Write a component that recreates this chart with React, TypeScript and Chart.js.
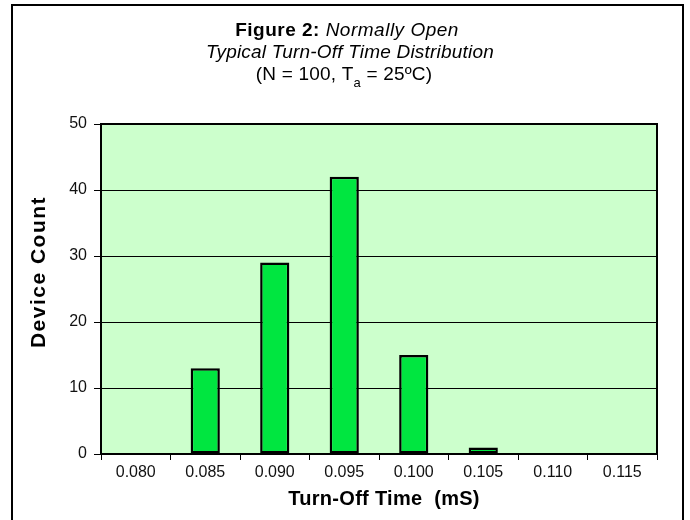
import React, { useEffect, useRef } from 'react';
import { Chart, registerables } from 'chart.js';

Chart.register(...registerables);

// ---- data ----
const categories = ['0.080', '0.085', '0.090', '0.095', '0.100', '0.105', '0.110', '0.115'];
const deviceCounts = [0, 13, 29, 42, 15, 1, 0, 0];
const yTickValues = [0, 10, 20, 30, 40, 50];

const titleBold = 'Figure 2:';
const titleItalic = 'Normally Open';
const titleLine2 = 'Typical Turn-Off Time Distribution';
const titleLine3Pre = '(N = 100, T';
const titleLine3Sub = 'a';
const titleLine3Post = ' = 25ºC)';
const xAxisTitle = 'Turn-Off Time  (mS)';
const yAxisTitle = 'Device Count';

const FONT = '"Liberation Sans", Arial, Helvetica, sans-serif';

const decorPlugin = {
  id: 'decor',
  beforeDraw(chart: any) {
    const { ctx, chartArea: a, width, height } = chart;
    ctx.save();
    ctx.fillStyle = '#ffffff';
    ctx.fillRect(0, 0, width, height);
    ctx.fillStyle = '#CCFFCC';
    ctx.fillRect(a.left, a.top, a.right - a.left, a.bottom - a.top);
    ctx.restore();
  },
  afterDatasetsDraw(chart: any) {
    const { ctx, chartArea: a } = chart;
    ctx.save();
    ctx.strokeStyle = '#000000';
    ctx.lineWidth = 2;
    ctx.strokeRect(a.left, a.top, a.right - a.left, a.bottom - a.top);
    ctx.restore();
  },
  afterDraw(chart: any) {
    const { ctx, chartArea: a } = chart;
    ctx.save();
    // outer frame
    ctx.strokeStyle = '#000000';
    ctx.lineWidth = 2;
    ctx.strokeRect(12, 5, 671, 560);

    ctx.fillStyle = '#000000';
    ctx.textBaseline = 'alphabetic';
    ctx.textAlign = 'left';

    // title line 1
    (ctx as any).letterSpacing = '0.5px';
    ctx.font = `bold 19px ${FONT}`;
    const bw = ctx.measureText(titleBold + ' ').width;
    ctx.font = `italic 19px ${FONT}`;
    const iw = ctx.measureText(titleItalic).width;
    let x = 347 - (bw + iw) / 2;
    ctx.font = `bold 19px ${FONT}`;
    ctx.fillText(titleBold + ' ', x, 36);
    ctx.font = `italic 19px ${FONT}`;
    ctx.fillText(titleItalic, x + bw, 36);

    // title line 2
    (ctx as any).letterSpacing = '0.2px';
    ctx.font = `italic 19px ${FONT}`;
    const w2 = ctx.measureText(titleLine2).width;
    ctx.fillText(titleLine2, 350 - w2 / 2, 57.5);

    // title line 3
    ctx.font = `19px ${FONT}`;
    const wp = ctx.measureText(titleLine3Pre).width;
    const wq = ctx.measureText(titleLine3Post).width;
    ctx.font = `13px ${FONT}`;
    const ws = ctx.measureText(titleLine3Sub).width;
    x = 344 - (wp + ws + wq) / 2;
    ctx.font = `19px ${FONT}`;
    ctx.fillText(titleLine3Pre, x, 80);
    ctx.font = `13px ${FONT}`;
    ctx.fillText(titleLine3Sub, x + wp, 87);
    ctx.font = `19px ${FONT}`;
    ctx.fillText(titleLine3Post, x + wp + ws, 80);

    // x axis title
    (ctx as any).letterSpacing = '0.3px';
    ctx.font = `bold 20px ${FONT}`;
    ctx.textAlign = 'center';
    ctx.textBaseline = 'middle';
    ctx.fillText(xAxisTitle, (a.left + a.right) / 2 + 5, 499);

    // y axis title
    (ctx as any).letterSpacing = '1.5px';
    ctx.font = `bold 21px ${FONT}`;
    ctx.translate(39, 272);
    ctx.rotate(-Math.PI / 2);
    ctx.fillText(yAxisTitle, 0, 0);
    ctx.restore();
  },
};

export default function App() {
  const canvasRef = useRef<HTMLCanvasElement | null>(null);

  useEffect(() => {
    document.body.style.margin = '0';
    const canvas = canvasRef.current;
    if (!canvas) return;
    const chart = new Chart(canvas, {
      type: 'bar',
      data: {
        labels: categories,
        datasets: [
          {
            data: deviceCounts,
            backgroundColor: '#00E640',
            borderColor: '#000000',
            borderWidth: 2.5,
            borderSkipped: false,
            barPercentage: 0.42,
            categoryPercentage: 1.0,
          },
        ],
      },
      options: {
        responsive: false,
        animation: false,
        devicePixelRatio: 1,
        layout: { padding: { top: 124, right: 33, left: 0, bottom: 0 } },
        plugins: {
          legend: { display: false },
          title: { display: false },
          tooltip: { enabled: false },
        },
        scales: {
          x: {
            type: 'category',
            offset: true,
            grid: {
              offset: true,
              drawOnChartArea: false,
              drawTicks: true,
              tickLength: 6,
              color: '#000000',
              lineWidth: 1,
            },
            border: { display: false },
            ticks: {
              font: { family: FONT, size: 16 },
              color: '#111111',
              padding: 3,
              maxRotation: 0,
              autoSkip: false,
            },
            afterFit(scale: any) {
              scale.height = 66;
            },
          },
          y: {
            min: 0,
            max: 50,
            afterBuildTicks(scale: any) {
              scale.ticks = yTickValues.map((v) => ({ value: v }));
            },
            grid: {
              drawTicks: true,
              tickLength: 7,
              color: '#000000',
              lineWidth: 1,
            },
            border: { display: false },
            ticks: {
              font: { family: FONT, size: 16 },
              color: '#111111',
              padding: 7,
            },
            afterFit(scale: any) {
              scale.width = 101;
            },
          },
        },
      },
      plugins: [decorPlugin],
    });
    return () => {
      chart.destroy();
    };
  }, []);

  return (
    <div style={{ width: 690, height: 520 }}>
      <canvas ref={canvasRef} width={690} height={520} style={{ display: 'block' }} />
    </div>
  );
}
